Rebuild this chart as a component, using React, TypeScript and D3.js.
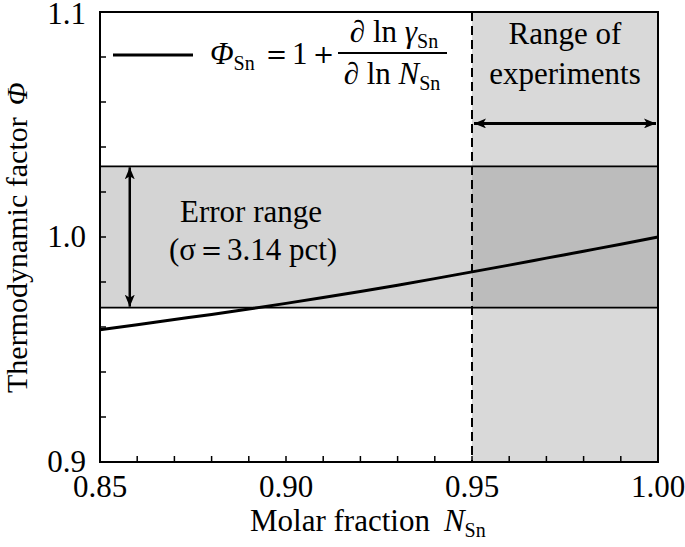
import React from "react";
import * as d3 from "d3";

const molarFraction = [0.85, 0.86, 0.87, 0.88, 0.89, 0.9, 0.91, 0.92, 0.93, 0.94, 0.95, 0.96, 0.97, 0.98, 0.99, 1.0];
const phiValues = [0.9588, 0.961, 0.9633, 0.9656, 0.968, 0.9705, 0.9731, 0.9758, 0.9786, 0.9815, 0.9845, 0.9875, 0.9906, 0.9937, 0.9968, 1.0];
const xTickLabels = ["0.85", "0.90", "0.95", "1.00"];
const xTickValues = [0.85, 0.9, 0.95, 1.0];
const yTickLabels = ["0.9", "1.0", "1.1"];
const yTickValues = [0.9, 1.0, 1.1];
const errorBand = [0.9686, 1.0314];
const experimentRange = [0.95, 1.0];
const errorArrowX = 0.858;
const rangeArrowY = 1.0505;

const W = 685;
const H = 547;
const L = 100, R = 658, T = 12, B = 462;
const FONT = "'Liberation Serif', 'Times New Roman', Times, serif";
const FS = 31;
const SUB = 20;

export default function App() {
  const x = d3.scaleLinear().domain([0.85, 1.0]).range([L, R]);
  const y = d3.scaleLinear().domain([0.9, 1.1]).range([B, T]);
  const line = d3
    .line<number>()
    .x((_, i) => x(molarFraction[i]))
    .y((d) => y(d))
    .curve(d3.curveMonotoneX);

  const xMinor = d3.range(0, 16).map((i) => 0.85 + i * 0.01);
  const yMinor = d3.range(0, 11).map((i) => 0.9 + i * 0.02);

  const bandTop = y(errorBand[1]);
  const bandBot = y(errorBand[0]);
  const ex0 = x(experimentRange[0]);
  const ex1 = x(experimentRange[1]);

  return (
    <svg width={W} height={H} style={{ position: "absolute", left: 0, top: 0, background: "#fff", fontFamily: FONT }}>
      <defs>
        <marker id="ah" viewBox="0 0 12 10" refX="12" refY="5" markerWidth="12" markerHeight="10" orient="auto-start-reverse" markerUnits="userSpaceOnUse">
          <path d="M0,0 L12,5 L0,10 L3,5 z" fill="#000" />
        </marker>
      </defs>
      <rect x={ex0} y={T} width={ex1 - ex0} height={B - T} fill="#d9d9d9" />
      <rect x={L} y={bandTop} width={R - L} height={bandBot - bandTop} fill="#d4d4d4" />
      <rect x={ex0} y={bandTop} width={ex1 - ex0} height={bandBot - bandTop} fill="#bcbcbc" />
      <line x1={L} x2={R} y1={bandTop} y2={bandTop} stroke="#000" strokeWidth={1.6} />
      <line x1={L} x2={R} y1={bandBot} y2={bandBot} stroke="#000" strokeWidth={1.6} />
      <line x1={ex0} x2={ex0} y1={T} y2={B} stroke="#000" strokeWidth={2} strokeDasharray="9,5" />
      <path d={line(phiValues) || ""} fill="none" stroke="#000" strokeWidth={3} />
      <line x1={x(errorArrowX)} x2={x(errorArrowX)} y1={bandTop + 1} y2={bandBot - 1} stroke="#000" strokeWidth={2.5} markerStart="url(#ah)" markerEnd="url(#ah)" />
      <line x1={ex0 + 2} x2={ex1 - 2} y1={y(rangeArrowY)} y2={y(rangeArrowY)} stroke="#000" strokeWidth={3} markerStart="url(#ah)" markerEnd="url(#ah)" />
      <rect x={L} y={T} width={R - L} height={B - T} fill="none" stroke="#000" strokeWidth={2} />
      {xMinor.map((v, i) => (
        <line key={"xt" + i} x1={x(v)} x2={x(v)} y1={B} y2={B - 6} stroke="#000" strokeWidth={1.5} />
      ))}
      {yMinor.map((v, i) => (
        <line key={"yt" + i} x1={L} x2={L + 6} y1={y(v)} y2={y(v)} stroke="#000" strokeWidth={1.5} />
      ))}
      {xTickValues.map((v, i) => (
        <text key={"xl" + i} x={x(v)} y={497} textAnchor="middle" fontSize={FS}>
          {xTickLabels[i]}
        </text>
      ))}
      {yTickValues.map((v, i) => (
        <text key={"yl" + i} x={86} y={Math.max(y(v) + 10, 24)} textAnchor="end" fontSize={FS}>
          {yTickLabels[i]}
        </text>
      ))}
      <text x={250} y={531} fontSize={FS}>
        Molar fraction
        <tspan dx={14} fontStyle="italic">N</tspan>
        <tspan fontSize={SUB} dy={6}>Sn</tspan>
      </text>
      <text transform="translate(27,393) rotate(-90)" fontSize={30}>
        Thermodynamic factor
        <tspan dx={12} fontStyle="italic">Φ</tspan>
      </text>
      <text x={251} y={222} textAnchor="middle" fontSize={FS}>Error range</text>
      <text x={253} y={260} textAnchor="middle" fontSize={FS}>(σ＝3.14 pct)</text>
      <text x={565} y={44} textAnchor="middle" fontSize={FS}>Range of</text>
      <text x={565} y={84} textAnchor="middle" fontSize={FS}>experiments</text>
      <line x1={113} x2={193} y1={55} y2={55} stroke="#000" strokeWidth={3} />
      <text x={210} y={64} fontSize={FS}>
        <tspan fontStyle="italic">Φ</tspan>
        <tspan fontSize={SUB} dy={6}>Sn</tspan>
        <tspan x={261} dy={-6}>＝1＋</tspan>
      </text>
      <line x1={338} x2={447} y1={53} y2={53} stroke="#000" strokeWidth={1.8} />
      <text x={394} y={42} textAnchor="middle" fontSize={FS}>
        <tspan>∂ ln </tspan>
        <tspan fontStyle="italic">γ</tspan>
        <tspan fontSize={SUB} dy={6}>Sn</tspan>
      </text>
      <text x={392} y={84} textAnchor="middle" fontSize={FS}>
        <tspan>∂ ln </tspan>
        <tspan fontStyle="italic">N</tspan>
        <tspan fontSize={SUB} dy={6}>Sn</tspan>
      </text>
    </svg>
  );
}
